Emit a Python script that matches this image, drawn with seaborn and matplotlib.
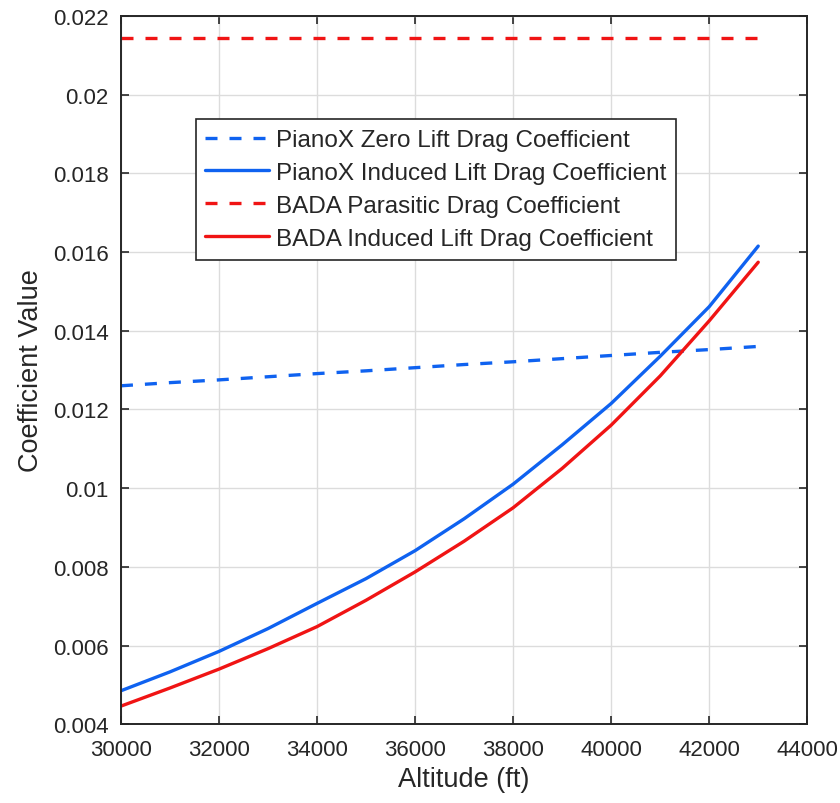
"""Koefisien drag vs ketinggian: PianoX vs BADA."""

import matplotlib

matplotlib.use("Agg")
import matplotlib.pyplot as plt
import pandas as pd
import seaborn as sns

# Nilai dibaca dari grafik referensi.
altitude = [30000, 31000, 32000, 33000, 34000, 35000, 36000,
            37000, 38000, 39000, 40000, 41000, 42000, 43000]
pianox_induced = [0.00485, 0.00533, 0.00585, 0.00643, 0.00707, 0.00770, 0.00841,
                  0.00922, 0.0101, 0.0111, 0.01215, 0.01335, 0.01461, 0.01615]
bada_induced = [0.00446, 0.00492, 0.00540, 0.00592, 0.00648, 0.00715, 0.00787,
                0.00865, 0.0095, 0.0105, 0.0116, 0.01285, 0.01425, 0.01574]
pianox_zero_lift = [0.01260, 0.01268, 0.01275, 0.01283, 0.01291, 0.01298, 0.01306,
                    0.01314, 0.01321, 0.01329, 0.01337, 0.01345, 0.01352, 0.01360]
bada_parasitic = [0.02144] * len(altitude)

labels = [
    "PianoX Zero Lift Drag Coefficient",
    "PianoX Induced Lift Drag Coefficient",
    "BADA Parasitic Drag Coefficient",
    "BADA Induced Lift Drag Coefficient",
]
y_ticks = [0.004, 0.006, 0.008, 0.010, 0.012, 0.014, 0.016, 0.018, 0.020, 0.022]
y_tick_labels = ["0.004", "0.006", "0.008", "0.01", "0.012", "0.014",
                 "0.016", "0.018", "0.02", "0.022"]
BLUE = "#0F62F0"
RED = "#F01414"
INK = "#262626"

frame = pd.DataFrame({
    "Altitude": altitude * 4,
    "Value": pianox_zero_lift + pianox_induced + bada_parasitic + bada_induced,
    "Series": sum([[name] * len(altitude) for name in labels], []),
})

sns.set_theme(style="whitegrid")
plt.rcParams["font.family"] = ["Liberation Sans", "DejaVu Sans"]

fig = plt.figure(figsize=(8.4, 8.04), dpi=100)
ax = fig.add_axes([0.144, 0.098, 0.817, 0.881])

sns.lineplot(
    data=frame,
    x="Altitude",
    y="Value",
    hue="Series",
    style="Series",
    hue_order=labels,
    style_order=labels,
    palette=[BLUE, BLUE, RED, RED],
    dashes=[(3.6, 3.6), "", (3.6, 3.6), ""],
    linewidth=2.4,
    ax=ax,
)

ax.set_xlim(30000, 44000)
ax.set_ylim(0.004, 0.022)
ax.set_xticks(range(30000, 44001, 2000))
ax.set_yticks(y_ticks)
ax.set_yticklabels(y_tick_labels)
ax.set_xlabel("Altitude (ft)", fontsize=19.5, color=INK, labelpad=4)
ax.set_ylabel("Coefficient Value", fontsize=19.5, color=INK, labelpad=6)

ax.set_facecolor("white")
ax.grid(True, color="#dcdcdc", linewidth=1.0)
for spine in ax.spines.values():
    spine.set_color(INK)
    spine.set_linewidth(1.4)
ax.tick_params(direction="in", length=6, width=1.2, colors=INK,
               labelsize=16, top=True, right=True, bottom=True, left=True,
               labelcolor=INK)
ax.tick_params(axis="x", pad=11)
ax.tick_params(axis="y", pad=9)

leg = ax.legend(
    loc="upper left",
    bbox_to_anchor=(0.109, 0.854),
    fontsize=17.5,
    frameon=True,
    fancybox=False,
    handlelength=2.6,
    handletextpad=0.3,
    borderpad=0.4,
    labelspacing=0.45,
    borderaxespad=0,
)
leg.get_frame().set_edgecolor(INK)
leg.get_frame().set_linewidth(1.2)
leg.get_frame().set_alpha(1)

fig.savefig("out.png", dpi=100)
